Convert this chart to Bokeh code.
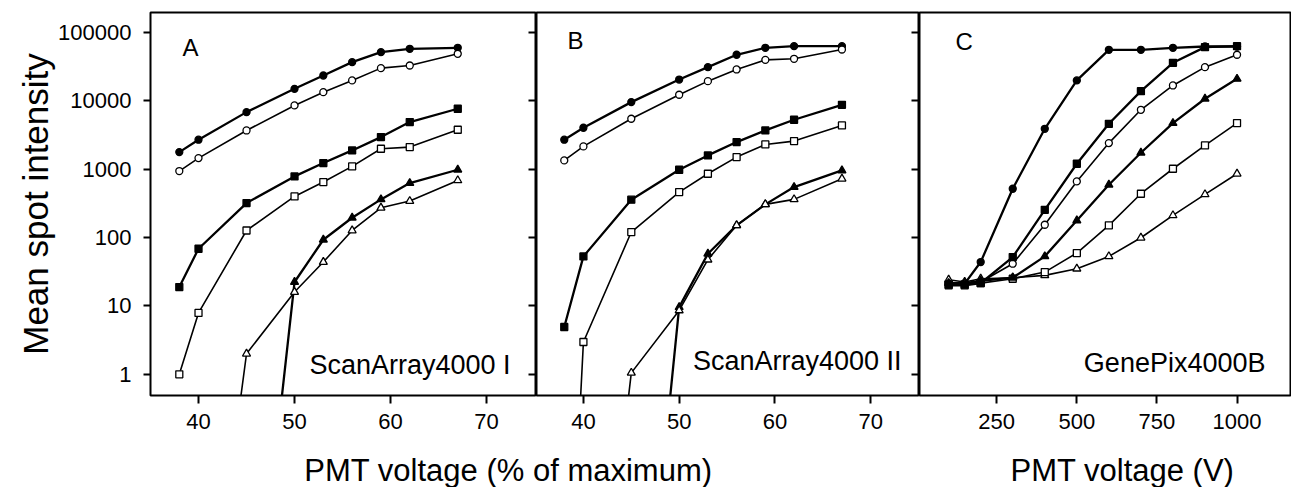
from bokeh.plotting import figure
from bokeh.models import Range1d, FixedTicker, LogAxis, Label, NumeralTickFormatter
from bokeh.layouts import row, column
from bokeh.embed import file_html
from bokeh.resources import INLINE

FONT = "Liberation Sans"

# ---------------- data ----------------
y_ticks = [1, 10, 100, 1000, 10000, 100000]
ab_x_ticks = [40, 50, 60, 70]
c_x_ticks = [250, 500, 750, 1000]

# Panel A: ScanArray4000 I
A_x = [38, 40, 45, 50, 53, 56, 59, 62, 67]
A_filled_circle = [1780, 2700, 6840, 15000, 23500, 36800, 51600, 57700, 59700]
A_open_circle = [940, 1455, 3690, 8570, 13400, 19900, 30100, 32900, 48800]
A_filled_square = [18.9, 68.7, 320, 785, 1230, 1883, 2950, 4890, 7660]
A_open_square = [1.0, 7.9, 127, 400, 649, 1099, 1992, 2107, 3777]
A_filled_tri_x = [45, 50, 53, 56, 59, 62, 67]
A_filled_tri = [1e-5, 22.4, 93, 195, 362, 627, 982]
A_open_tri_x = [40, 45, 50, 53, 56, 59, 62, 67]
A_open_tri = [1e-5, 2.0, 16, 43.9, 127, 273, 342, 686]

# Panel B: ScanArray4000 II
B_x = [38, 40, 45, 50, 53, 56, 59, 62, 67]
B_filled_circle = [2700, 4040, 9580, 20500, 31100, 47200, 59700, 63100, 63100]
B_open_circle = [1345, 2155, 5470, 12270, 19420, 28800, 39800, 41200, 56400]
B_filled_square = [4.92, 53.1, 358, 982, 1592, 2494, 3690, 5290, 8750]
B_open_square = [1e-5, 2.97, 120.5, 463, 859, 1504, 2305, 2579, 4370]
B_filled_tri_x = [45, 50, 53, 56, 59, 62, 67]
B_filled_tri = [1e-6, 9.6, 58, 151, 306, 548, 960]
B_open_tri_x = [40, 45, 50, 53, 56, 59, 62, 67]
B_open_tri = [1e-6, 1.05, 8.6, 47.5, 151, 306, 362, 726]

# Panel C: GenePix4000B
C_x = [100, 150, 200, 300, 400, 500, 600, 700, 800, 900, 1000]
C_filled_circle = [21.2, 21.2, 43.9, 518, 3905, 19900, 55800, 55800, 59700, 62400, 62400]
C_filled_square = [20.0, 20.0, 21.6, 51.9, 255, 1202, 4620, 13870, 36000, 61000, 63100]
C_open_circle = [20.7, 21.6, 22.4, 41.5, 154, 663, 2410, 7400, 16800, 31100, 47200]
C_filled_tri = [21.6, 21.6, 23.2, 25.9, 53.1, 178, 593, 1741, 4725, 10720, 21000]
C_open_square = [20.7, 20.7, 21.6, 25.0, 31.3, 59.4, 151, 438, 1016, 2228, 4725]
C_open_tri = [24.2, 22.4, 25.0, 25.9, 28.0, 35.1, 53.1, 99.5, 211, 428, 859]

panel_letters = ["A", "B", "C"]
panel_names = ["ScanArray4000 I", "ScanArray4000 II", "GenePix4000B"]
y_label = "Mean spot intensity"
x_label_ab = "PMT voltage (% of maximum)"
x_label_c = "PMT voltage (V)"

# ---------------- layout ----------------
TOP = 12
FRAME_H = 383
BOTTOM = 45
H = TOP + FRAME_H + BOTTOM
Y_RANGE = (0.49, 196000)


def base_fig(width, x_range, x_ticks, left_border, y_loc):
    p = figure(width=width, height=H, x_range=Range1d(*x_range),
               y_range=Range1d(*Y_RANGE), y_axis_type="log",
               y_axis_location=y_loc, x_axis_location="below",
               toolbar_location=None, output_backend="svg",
               min_border_left=left_border, min_border_right=0,
               min_border_top=TOP, min_border_bottom=BOTTOM)
    p.grid.visible = False
    p.outline_line_color = "black"
    p.outline_line_width = 2
    p.background_fill_color = "white"
    p.border_fill_color = "white"
    xa = p.xaxis[0]
    xa.ticker = FixedTicker(ticks=x_ticks, minor_ticks=[])
    xa.major_tick_out = 8
    xa.major_tick_in = 0
    xa.major_tick_line_width = 2
    xa.major_tick_line_color = "black"
    xa.axis_line_color = None
    xa.major_label_standoff = 10
    xa.major_label_text_font = FONT
    xa.major_label_text_font_size = "22px"
    xa.major_label_text_color = "black"
    return p


def inward_right_axis(p):
    ax = LogAxis(ticker=FixedTicker(ticks=y_ticks, minor_ticks=[]))
    ax.major_tick_in = 8
    ax.major_tick_out = 0
    ax.major_tick_line_width = 2
    ax.major_tick_line_color = "black"
    ax.axis_line_color = None
    ax.major_label_text_font_size = "1px"
    ax.major_label_text_color = None
    ax.major_label_standoff = 0
    p.add_layout(ax, "right")


def add_series(p, xs, ys, marker, filled, size):
    lw = 2.3 if filled else 1.6
    p.line(xs, ys, line_color="black", line_width=lw)
    p.scatter(xs, ys, marker=marker, size=size, line_color="black",
              line_width=1.3, fill_color="black" if filled else "white")


def add_texts(p, letter, lx, ly, name, nx, ny):
    p.add_layout(Label(x=lx, y=ly, x_units="screen", y_units="screen", text=letter,
                       text_font=FONT, text_font_size="24px", text_color="black",
                       text_align="left", text_baseline="alphabetic"))
    p.add_layout(Label(x=nx, y=ny, x_units="screen", y_units="screen", text=name,
                       text_font=FONT, text_font_size="27px", text_color="black",
                       text_align="right", text_baseline="alphabetic"))


# Panel A
pA = base_fig(536, (35.0, 75.2), ab_x_ticks, 150, "left")
ya = pA.yaxis[0]
ya.ticker = FixedTicker(ticks=y_ticks, minor_ticks=[])
ya.formatter = NumeralTickFormatter(format="0")
ya.major_tick_out = 7
ya.major_tick_in = 0
ya.major_tick_line_width = 2
ya.major_tick_line_color = "black"
ya.axis_line_color = None
ya.major_label_standoff = 12
ya.major_label_text_font = FONT
ya.major_label_text_font_size = "22px"
ya.major_label_text_color = "black"
ya.axis_label = y_label
ya.axis_label_text_font = FONT
ya.axis_label_text_font_size = "35px"
ya.axis_label_text_font_style = "normal"
ya.axis_label_text_color = "black"
ya.axis_label_standoff = 0
inward_right_axis(pA)
add_series(pA, A_x, A_filled_circle, "circle", True, 7)
add_series(pA, A_x, A_open_circle, "circle", False, 7)
add_series(pA, A_x, A_filled_square, "square", True, 7)
add_series(pA, A_x, A_open_square, "square", False, 7)
add_series(pA, A_filled_tri_x, A_filled_tri, "triangle", True, 8)
add_series(pA, A_open_tri_x, A_open_tri, "triangle", False, 8)
add_texts(pA, panel_letters[0], 32, 348, panel_names[0], 360, 31)

# Panel B
pB = base_fig(383, (35.1, 75.1), ab_x_ticks, 0, None)
inward_right_axis(pB)
add_series(pB, B_x, B_filled_circle, "circle", True, 7)
add_series(pB, B_x, B_open_circle, "circle", False, 7)
add_series(pB, B_x, B_filled_square, "square", True, 7)
add_series(pB, B_x, B_open_square, "square", False, 7)
add_series(pB, B_filled_tri_x, B_filled_tri, "triangle", True, 8)
add_series(pB, B_open_tri_x, B_open_tri, "triangle", False, 8)
add_texts(pB, panel_letters[1], 31, 355, panel_names[1], 365, 35)

# Panel C
pC = base_fig(372, (9, 1170), c_x_ticks, 0, None)
add_series(pC, C_x, C_open_tri, "triangle", False, 8)
add_series(pC, C_x, C_open_square, "square", False, 7)
add_series(pC, C_x, C_filled_tri, "triangle", True, 8)
add_series(pC, C_x, C_open_circle, "circle", False, 7)
add_series(pC, C_x, C_filled_square, "square", True, 7)
add_series(pC, C_x, C_filled_circle, "circle", True, 7)
add_texts(pC, panel_letters[2], 36, 354, panel_names[2], 346, 33)

# Strip with the x-axis titles
STRIP_W = 1291
STRIP_H = 487 - H
strip = figure(width=STRIP_W, height=STRIP_H, x_range=Range1d(0, STRIP_W),
               y_range=Range1d(0, STRIP_H), toolbar_location=None,
               output_backend="svg", x_axis_location=None, y_axis_location=None,
               min_border=0)
strip.grid.visible = False
strip.outline_line_color = None
strip.add_layout(Label(x=508, y=17, x_units="screen", y_units="screen",
                       text=x_label_ab, text_font=FONT,
                       text_font_size="31px", text_color="black",
                       text_align="center", text_baseline="alphabetic"))
strip.add_layout(Label(x=1122, y=17, x_units="screen", y_units="screen",
                       text=x_label_c, text_font=FONT,
                       text_font_size="31px", text_color="black",
                       text_align="center", text_baseline="alphabetic"))

layout = column(row(pA, pB, pC, spacing=0), strip, spacing=0)

open("out.html", "w").write(file_html(layout, INLINE))
